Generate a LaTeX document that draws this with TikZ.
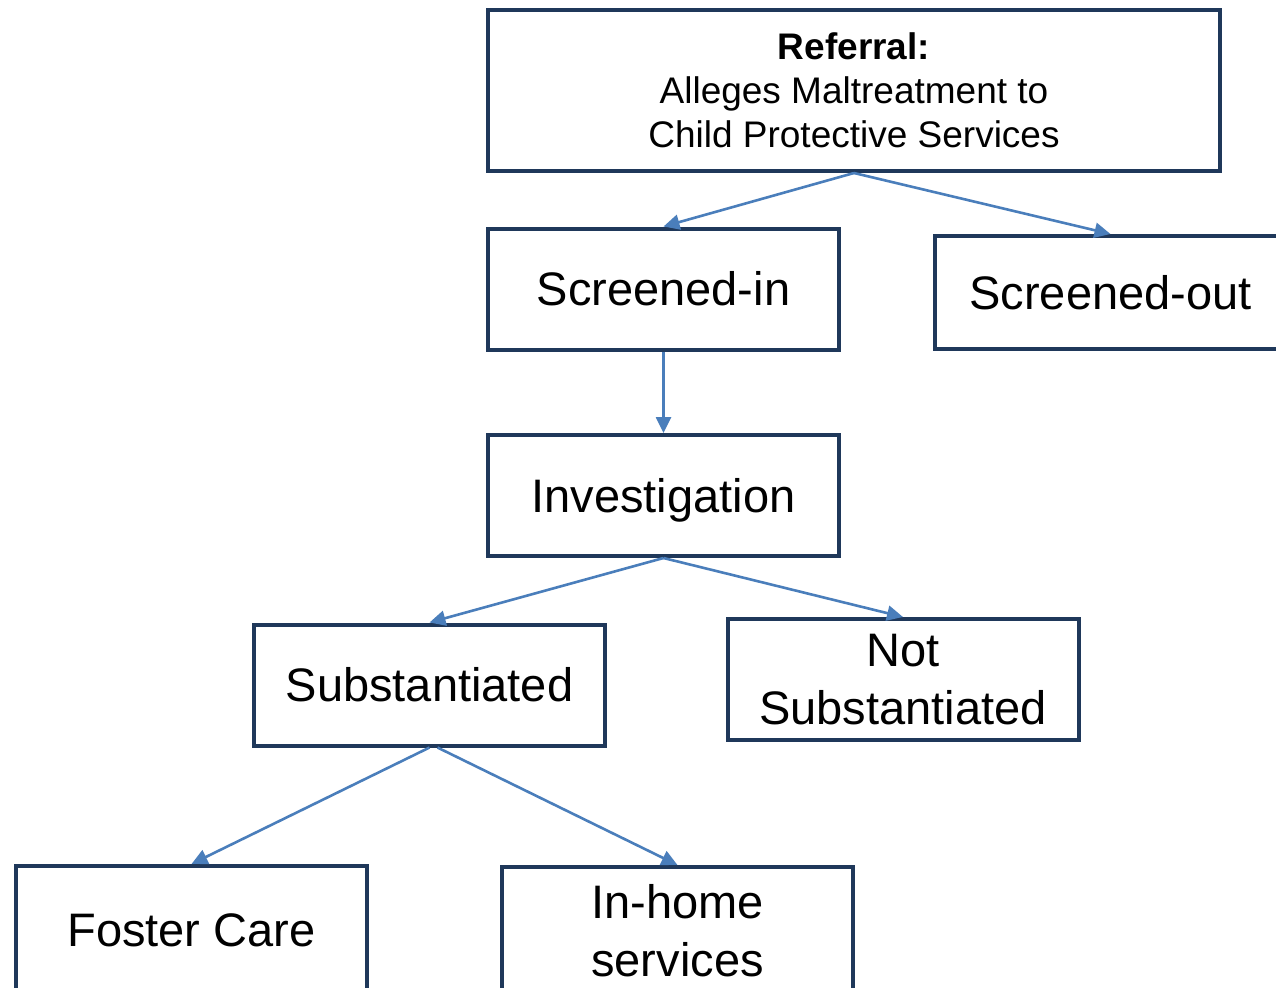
\documentclass[tikz,border=0pt]{standalone}
\usepackage{fontspec}
\setmainfont{Liberation Sans}
\usetikzlibrary{arrows.meta}
\usetikzlibrary{positioning}

\definecolor{boxline}{RGB}{31,56,90}
\definecolor{arrowblue}{RGB}{74,126,187}

\begin{document}
\begin{tikzpicture}[x=0.5pt,y=-0.5pt,
    box/.style={rectangle, draw=boxline, line width=2pt, minimum width=175.5pt, minimum height=60.5pt, align=center, font=\fontsize{23.5}{29}\selectfont},
    flow/.style={draw=arrowblue, line width=1.3pt, -{Triangle[length=8pt,width=7.5pt]}}]
    \clip (0,0) rectangle (1276,987);
    % Define boxes
    \node[box, minimum width=366pt, minimum height=80.5pt, font=\fontsize{18.5}{22}\selectfont] (referral) at (854,90.5) {\textbf{Referral:}\\Alleges Maltreatment to\\Child Protective Services};
    \node[box] (scrin) at (663.5,289) {Screened-in};
    \node[box, minimum height=56.5pt] (scrout) at (1110.5,292.5) {Screened-out};
    \node[box, text depth=0pt] (invest) at (663.5,495.5) {Investigation};
    \node[box] (subst) at (429.5,685) {Substantiated};
    \node[box] (notsubst) at (903,679.5) {Not\\Substantiated};
    \node[box, minimum height=64pt] (foster) at (191.5,930) {Foster Care};
    \node[box, minimum height=64pt] (inhome) at (677.5,931) {In-home\\services};

    % Draw arrows
    \draw[flow] (referral.south) -- (scrin.north);
    \draw[flow] (referral.south) -- (scrout.north);
    \draw[flow] (scrin.south) -- (invest.north);
    \draw[flow] (invest.south) -- (subst.north);
    \draw[flow] (invest.south) -- (notsubst.north);
    \draw[flow] (subst.south) -- (foster.north);
    \draw[flow] ([xshift=4pt]subst.south) -- (inhome.north);
\end{tikzpicture}
\end{document}
